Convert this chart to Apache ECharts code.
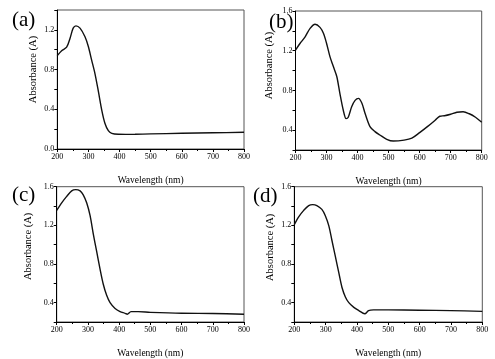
<!DOCTYPE html>
<html>
<head>
<meta charset="utf-8">
<script src="https://cdn.jsdelivr.net/npm/echarts@6/dist/echarts.min.js"></script>
<style>html,body{margin:0;padding:0;background:#fff;}#c{width:495px;height:359px;}</style>
</head>
<body>
<div id="c"></div>
<script>
// Panel (a)
var waveA = [200,214,230,241,251,260,273,289,300,310,321,332,343,353,364,375,396,420,450,500,600,700,800];
var absA  = [0.94,0.99,1.025,1.116,1.217,1.24,1.217,1.13,1.03,0.90,0.76,0.58,0.39,0.26,0.185,0.158,0.148,0.147,0.148,0.152,0.158,0.163,0.168];
// Panel (b)
var waveB = [200,215,231,247,263,279,290,300,311,322,333,343,354,363,370,381,392,403,414,424,440,456,472,494,515,550,575,600,625,650,665,680,700,720,740,760,780,800];
var absB  = [1.207,1.275,1.34,1.425,1.466,1.435,1.375,1.275,1.14,1.04,0.94,0.77,0.60,0.516,0.53,0.636,0.70,0.72,0.67,0.57,0.435,0.385,0.351,0.308,0.29,0.30,0.32,0.375,0.435,0.50,0.54,0.545,0.56,0.58,0.585,0.565,0.53,0.48];
// Panel (c)
var waveC = [200,216,232,248,261,275,285,296,307,317,328,339,349,360,371,387,403,419,426,438,461,500,600,700,800];
var absC  = [1.355,1.433,1.50,1.557,1.57,1.557,1.516,1.433,1.30,1.114,0.93,0.744,0.593,0.476,0.40,0.34,0.308,0.29,0.28,0.307,0.307,0.30,0.29,0.288,0.28];
// Panel (d)
var waveD = [200,214,230,246,259,272,288,299,310,320,331,342,352,363,374,390,406,425,437,453,500,600,700,800];
var absD  = [1.207,1.288,1.355,1.405,1.415,1.405,1.365,1.30,1.197,1.046,0.879,0.71,0.56,0.459,0.40,0.351,0.318,0.285,0.318,0.325,0.325,0.322,0.318,0.31];

var panelLabels = ['(a)','(b)','(c)','(d)'];
var xTitle = 'Wavelength (nm)';
var yTitle = 'Absorbance (A)';

var FONT = 'Liberation Serif';
function zip(x, y){ return x.map(function(v,i){ return [v, y[i]]; }); }

var grids = [
  {left:57.3, top:10, width:186.7, height:139},
  {left:295.5, top:11, width:186.2, height:139},
  {left:56.7, top:186.7, width:187.3, height:139},
  {left:294.3, top:186.7, width:188, height:139}
];
var yRanges = [[0,1.4],[0.2,1.6],[0.2,1.6],[0.2,1.6]];
var yNameGaps = [19, 21, 23, 19];
var yNameShift = [20, 30, 16, 14];
var datasets = [zip(waveA,absA), zip(waveB,absB), zip(waveC,absC), zip(waveD,absD)];

var opt = {
  backgroundColor:'#fff',
  animation:false,
  grid: grids.map(function(g){ return Object.assign({show:true, borderColor:'#555', borderWidth:1, backgroundColor:'transparent'}, g); }),
  xAxis: grids.map(function(g,i){ return {
    type:'value', gridIndex:i, min:200, max:800, interval:100,
    name:xTitle, nameLocation:'middle', nameGap:26,
    nameTextStyle:{fontFamily:FONT, fontSize:9.5, color:'#000'},
    axisLine:{show:true, lineStyle:{color:'#000', width:1}},
    axisTick:{show:true, inside:false, length:3, lineStyle:{color:'#000'}},
    minorTick:{show:true, splitNumber:2, length:2, lineStyle:{color:'#000'}},
    splitLine:{show:false},
    axisLabel:{fontFamily:FONT, fontSize:8, color:'#000', margin:4}
  };}),
  yAxis: grids.map(function(g,i){ return {
    type:'value', gridIndex:i, min:yRanges[i][0], max:yRanges[i][1], interval:0.2,
    name:yTitle, nameLocation:'middle', nameGap:yNameGaps[i],
    nameTextStyle:{fontFamily:FONT, fontSize:10.5, color:'#000', padding:[0,0,0,yNameShift[i]]},
    axisLine:{show:true, lineStyle:{color:'#000', width:1}},
    axisTick:{show:true, inside:false, length:3, lineStyle:{color:'#000'}},
    splitLine:{show:false},
    axisLabel:{fontFamily:FONT, fontSize:8, color:'#000', margin:3,
      formatter:function(v){ var k=Math.round(v*10); return (k%4===0)? v.toFixed(1) : ''; }}
  };}),
  graphic: [
    {type:'text', left:12, top:10, style:{text:panelLabels[0], font:'21px "Liberation Serif"', fill:'#000'}},
    {type:'text', left:269, top:12, style:{text:panelLabels[1], font:'21px "Liberation Serif"', fill:'#000'}},
    {type:'text', left:12, top:185, style:{text:panelLabels[2], font:'21px "Liberation Serif"', fill:'#000'}},
    {type:'text', left:253, top:186, style:{text:panelLabels[3], font:'21px "Liberation Serif"', fill:'#000'}}
  ],
  series: datasets.map(function(d,i){ return {
    type:'line', xAxisIndex:i, yAxisIndex:i, data:d, showSymbol:false, symbol:'none',
    smooth:0.3, lineStyle:{color:'#111', width:1.4}
  };})
};
echarts.init(document.getElementById('c')).setOption(opt);
</script>
</body>
</html>
